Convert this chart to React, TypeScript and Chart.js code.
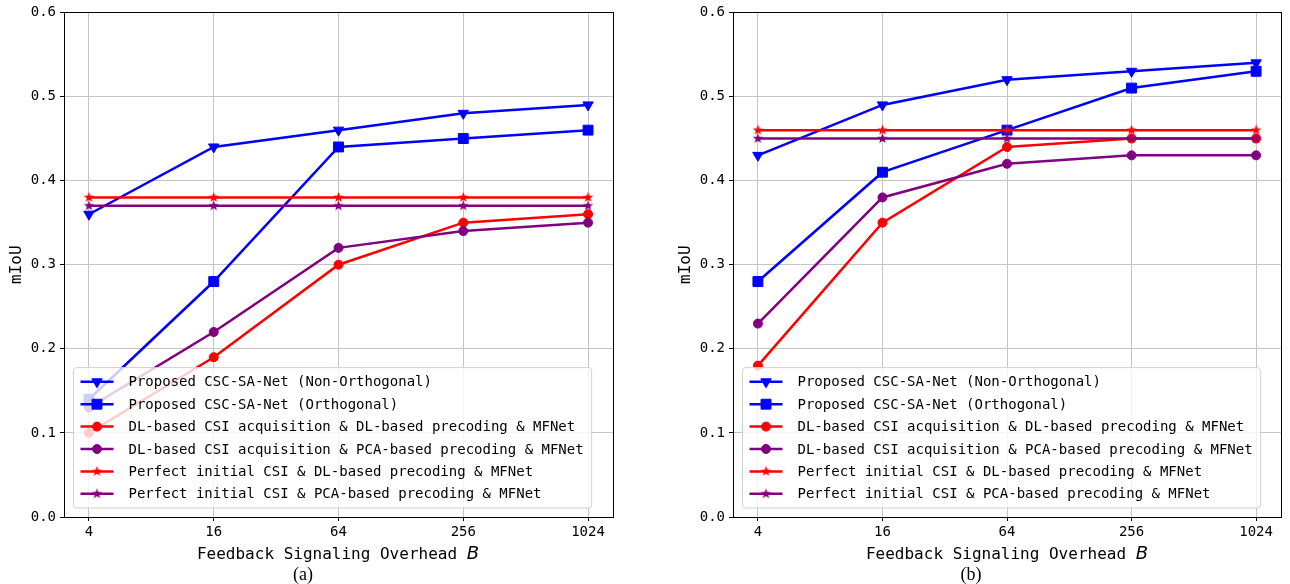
import React, { useEffect, useRef } from 'react';
import { Chart, registerables } from 'chart.js';
Chart.register(...registerables);

const xLabels = ['4', '16', '64', '256', '1024'];
const xPositions = [0, 1, 2, 3, 4];
const yTickValues = [0, 0.1, 0.2, 0.3, 0.4, 0.5, 0.6];

const seriesNames = [
  'Proposed CSC-SA-Net (Non-Orthogonal)',
  'Proposed CSC-SA-Net (Orthogonal)',
  'DL-based CSI acquisition & DL-based precoding & MFNet',
  'DL-based CSI acquisition & PCA-based precoding & MFNet',
  'Perfect initial CSI & DL-based precoding & MFNet',
  'Perfect initial CSI & PCA-based precoding & MFNet',
];

// Panel (a)
const aNonOrth = [0.36, 0.44, 0.46, 0.48, 0.49];
const aOrth = [0.14, 0.28, 0.44, 0.45, 0.46];
const aDlDl = [0.10, 0.19, 0.30, 0.35, 0.36];
const aDlPca = [0.13, 0.22, 0.32, 0.34, 0.35];
const aPerfDl = [0.38, 0.38, 0.38, 0.38, 0.38];
const aPerfPca = [0.37, 0.37, 0.37, 0.37, 0.37];

// Panel (b)
const bNonOrth = [0.43, 0.49, 0.52, 0.53, 0.54];
const bOrth = [0.28, 0.41, 0.46, 0.51, 0.53];
const bDlDl = [0.18, 0.35, 0.44, 0.45, 0.45];
const bDlPca = [0.23, 0.38, 0.42, 0.43, 0.43];
const bPerfDl = [0.46, 0.46, 0.46, 0.46, 0.46];
const bPerfPca = [0.45, 0.45, 0.45, 0.45, 0.45];

const BLUE = '#0000ff';
const RED = '#ff0000';
const PURPLE = '#800080';
const MONO = "'DejaVu Sans Mono', monospace";

function makeStar(color: string, outer: number): HTMLCanvasElement {
  const size = Math.ceil(outer * 2 + 2);
  const c = document.createElement('canvas');
  c.width = size;
  c.height = size;
  const ctx = c.getContext('2d')!;
  const cx = size / 2;
  const cy = size / 2;
  const inner = outer * 0.42;
  ctx.beginPath();
  for (let i = 0; i < 10; i++) {
    const r = i % 2 === 0 ? outer : inner;
    const a = -Math.PI / 2 + (i * Math.PI) / 5;
    const px = cx + r * Math.cos(a);
    const py = cy + r * Math.sin(a);
    if (i === 0) ctx.moveTo(px, py);
    else ctx.lineTo(px, py);
  }
  ctx.closePath();
  ctx.fillStyle = color;
  ctx.fill();
  return c;
}

type Style = { color: string; pointStyle: any; radius: number; rotation: number };

function buildStyles(): Style[] {
  return [
    { color: BLUE, pointStyle: 'triangle', radius: 6, rotation: 180 },
    { color: BLUE, pointStyle: 'rect', radius: 7, rotation: 0 },
    { color: RED, pointStyle: 'circle', radius: 4.5, rotation: 0 },
    { color: PURPLE, pointStyle: 'circle', radius: 4.5, rotation: 0 },
    { color: RED, pointStyle: makeStar(RED, 5.5), radius: 5, rotation: 0 },
    { color: PURPLE, pointStyle: makeStar(PURPLE, 5.5), radius: 5, rotation: 0 },
  ];
}

const frameAndLegend = {
  id: 'frameAndLegend',
  afterDatasetsDraw(chart: any) {
    const { ctx, chartArea } = chart;
    const styles: Style[] = chart.options.plugins.frameAndLegend.styles;
    ctx.save();
    // legend
    ctx.font = `14px ${MONO}`;
    let maxW = 0;
    seriesNames.forEach((n) => {
      maxW = Math.max(maxW, ctx.measureText(n).width);
    });
    const rowH = 22.4;
    const boxX = chartArea.left + 9.5;
    const boxH = rowH * 6 + 6;
    const boxY = chartArea.bottom - 9 - boxH;
    const boxW = 55 + maxW + 8;
    ctx.beginPath();
    ctx.roundRect(boxX, boxY, boxW, boxH, 3);
    ctx.fillStyle = 'rgba(255,255,255,0.8)';
    ctx.fill();
    ctx.lineWidth = 1;
    ctx.strokeStyle = 'rgba(204,204,204,0.9)';
    ctx.stroke();
    seriesNames.forEach((name, i) => {
      const st = styles[i];
      const cy = boxY + 3 + rowH * (i + 0.5);
      ctx.beginPath();
      ctx.moveTo(boxX + 7, cy);
      ctx.lineTo(boxX + 40, cy);
      ctx.strokeStyle = st.color;
      ctx.lineWidth = 2.5;
      ctx.stroke();
      ctx.fillStyle = st.color;
      ctx.strokeStyle = st.color;
      ctx.lineWidth = 1;
      (Chart as any).helpers
        ? null
        : null;
      drawMarker(ctx, st, boxX + 23.5, cy);
      ctx.fillStyle = '#000';
      ctx.textBaseline = 'middle';
      ctx.textAlign = 'left';
      ctx.fillText(name, boxX + 55, cy + 1);
    });
    // frame
    ctx.strokeStyle = '#000';
    ctx.lineWidth = 1;
    ctx.strokeRect(
      Math.round(chartArea.left) + 0.5,
      Math.round(chartArea.top) + 0.5,
      Math.round(chartArea.right - chartArea.left),
      Math.round(chartArea.bottom - chartArea.top)
    );
    ctx.restore();
  },
};

function drawMarker(ctx: CanvasRenderingContext2D, st: Style, x: number, y: number) {
  const r = st.radius;
  ctx.beginPath();
  if (st.pointStyle instanceof HTMLCanvasElement) {
    const c = st.pointStyle;
    ctx.drawImage(c, x - c.width / 2, y - c.height / 2);
    return;
  }
  if (st.pointStyle === 'circle') {
    ctx.arc(x, y, r, 0, Math.PI * 2);
  } else if (st.pointStyle === 'rect') {
    const s = Math.SQRT1_2 * r;
    ctx.rect(x - s, y - s, 2 * s, 2 * s);
  } else if (st.pointStyle === 'triangle') {
    let rad = (st.rotation * Math.PI) / 180;
    ctx.moveTo(x + Math.sin(rad) * r, y - Math.cos(rad) * r);
    rad += (2 * Math.PI) / 3;
    ctx.lineTo(x + Math.sin(rad) * r, y - Math.cos(rad) * r);
    rad += (2 * Math.PI) / 3;
    ctx.lineTo(x + Math.sin(rad) * r, y - Math.cos(rad) * r);
    ctx.closePath();
  }
  ctx.fill();
  ctx.stroke();
}

function Panel(props: { series: number[][]; width: number; rightPad: number }) {
  const ref = useRef<HTMLCanvasElement>(null);
  useEffect(() => {
    const styles = buildStyles();
    const datasets = props.series.map((vals, i) => ({
      label: seriesNames[i],
      data: vals.map((v, k) => ({ x: xPositions[k], y: v })),
      borderColor: styles[i].color,
      backgroundColor: styles[i].color,
      pointBackgroundColor: styles[i].color,
      pointBorderColor: styles[i].color,
      pointBorderWidth: 1,
      pointStyle: styles[i].pointStyle,
      pointRadius: styles[i].radius,
      pointRotation: styles[i].rotation,
      borderWidth: 2.5,
      tension: 0,
      order: 5 - i,
    }));
    const chart = new Chart(ref.current!, {
      type: 'line',
      data: { datasets },
      plugins: [frameAndLegend],
      options: {
        animation: false,
        responsive: false,
        devicePixelRatio: 1,
        layout: { padding: { left: 0, right: props.rightPad, top: 12, bottom: 0 } },
        plugins: {
          legend: { display: false },
          tooltip: { enabled: false },
          frameAndLegend: { styles },
        } as any,
        scales: {
          x: {
            type: 'linear',
            min: -0.2,
            max: 4.2,
            afterBuildTicks: (s: any) => {
              s.ticks = xPositions.map((v) => ({ value: v }));
            },
            afterFit: (s: any) => {
              s.height = 67;
            },
            ticks: {
              autoSkip: false,
              maxRotation: 0,
              padding: 3,
              color: '#000',
              font: { family: MONO, size: 14 },
              callback: (v: any) => xLabels[Math.round(Number(v))] ?? '',
            },
            grid: { color: '#c4c4c4', lineWidth: 1, tickLength: 4, tickColor: '#000' },
            border: { color: '#000', width: 1 },
          },
          y: {
            type: 'linear',
            min: 0,
            max: 0.6,
            afterBuildTicks: (s: any) => {
              s.ticks = yTickValues.map((v) => ({ value: v }));
            },
            afterFit: (s: any) => {
              s.width = 64;
            },
            ticks: {
              padding: 4,
              color: '#000',
              font: { family: MONO, size: 14 },
              callback: (v: any) => Number(v).toFixed(1),
            },
            title: {
              display: true,
              text: 'mIoU',
              color: '#000',
              font: { family: MONO, size: 16 },
              padding: { top: 7, bottom: 0 },
            },
            grid: { color: '#c4c4c4', lineWidth: 1, tickLength: 4, tickColor: '#000' },
            border: { color: '#000', width: 1 },
          },
        },
      } as any,
    });
    return () => chart.destroy();
  }, []);
  return <canvas ref={ref} width={props.width} height={584} style={{ width: props.width, height: 584, display: 'block' }} />;
}

const xTitleStyle: React.CSSProperties = {
  position: 'absolute',
  top: 543,
  width: 400,
  textAlign: 'center',
  fontFamily: MONO,
  fontSize: 16,
  lineHeight: '20px',
  color: '#000',
  whiteSpace: 'nowrap',
};

const captionStyle: React.CSSProperties = {
  position: 'absolute',
  top: 563,
  width: 60,
  textAlign: 'center',
  fontFamily: "'Liberation Serif', 'Times New Roman', serif",
  fontSize: 18,
  lineHeight: '22px',
  color: '#000',
};

export default function App() {
  return (
    <div style={{ position: 'absolute', left: 0, top: 0, width: 1290, height: 584, background: '#fff', overflow: 'hidden' }}>
      <div style={{ position: 'absolute', left: 0, top: 0 }}>
        <Panel series={[aNonOrth, aOrth, aDlDl, aDlPca, aPerfDl, aPerfPca]} width={640} rightPad={27} />
      </div>
      <div style={{ position: 'absolute', left: 669, top: 0 }}>
        <Panel series={[bNonOrth, bOrth, bDlDl, bDlPca, bPerfDl, bPerfPca]} width={621} rightPad={9} />
      </div>
      <div style={{ ...xTitleStyle, left: 338 - 200 }}>
        Feedback Signaling Overhead <span style={{ fontFamily: "'DejaVu Sans', sans-serif", fontStyle: 'italic', fontSize: 18 }}>B</span>
      </div>
      <div style={{ ...xTitleStyle, left: 1007 - 200 }}>
        Feedback Signaling Overhead <span style={{ fontFamily: "'DejaVu Sans', sans-serif", fontStyle: 'italic', fontSize: 18 }}>B</span>
      </div>
      <div style={{ ...captionStyle, left: 303 - 30 }}>(a)</div>
      <div style={{ ...captionStyle, left: 971 - 30 }}>(b)</div>
    </div>
  );
}
